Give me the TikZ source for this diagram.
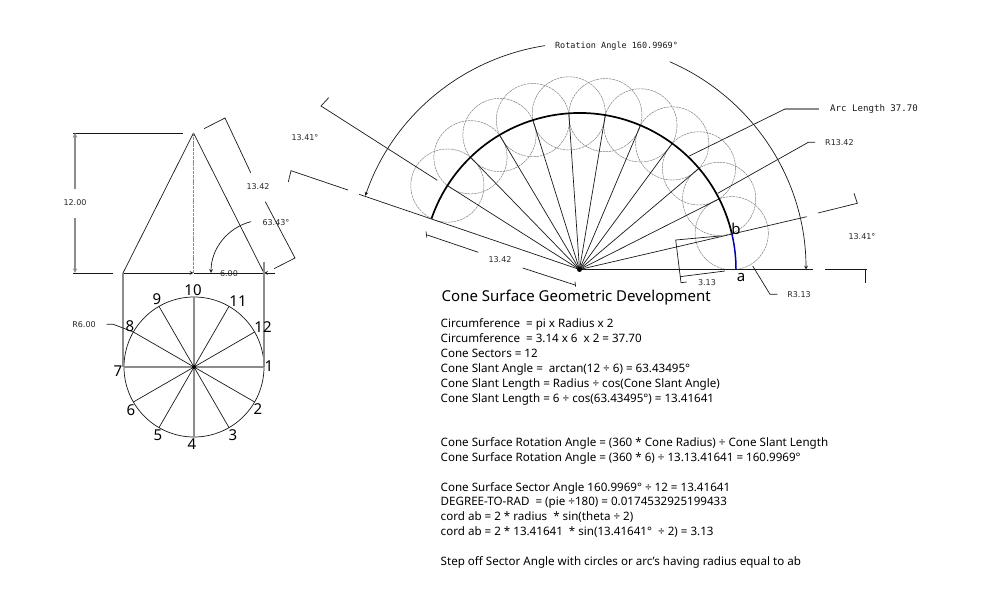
\documentclass[tikz,border=0pt]{standalone}
\usepackage{fontspec}
\setmainfont{Noto Sans}
\newfontfamily\dimfont{DejaVu Sans}
\newfontfamily\wordfont{DejaVu Sans Mono}
\usetikzlibrary{arrows}
\tikzset{
  thinln/.style={draw=black!90, line width=0.7pt},
  grayln/.style={draw=black!45, line width=1.1pt},
  stepcirc/.style={draw=black!50, line width=0.5pt, dash pattern=on 2.5pt off 0.7pt},
  dimlab/.style={inner sep=0pt, text=black!85, font=\dimfont\fontsize{8}{9}\selectfont},
  wordlab/.style={inner sep=0pt, text=black!90, font=\wordfont\fontsize{8.5}{9}\selectfont},
  numlab/.style={inner sep=0pt, font=\fontsize{15}{16}\selectfont},
  notes/.style={inner sep=0pt, align=left, font=\fontsize{11.6}{14.85}\selectfont}
}

\begin{document}
\begin{tikzpicture}[x=1pt, y=1pt, >=stealth]
  \useasboundingbox (0,0) rectangle (992,602);

  % cone
  \coordinate (apex) at (193.5,469);
  \coordinate (baseL) at (123,329);
  \coordinate (baseM) at (193.5,329);
  \coordinate (baseR) at (264,329);
  \draw[thinln] (baseL) to (apex);
  \draw[thinln] (apex) to (baseR);
  \draw[grayln, dash pattern=on 3pt off 0.8pt] (apex) to (baseM);
  \draw[thinln, ->] (baseL) to (baseM);
  \draw[thinln] (baseM) to (baseR);
  \draw[thinln, ->] (275,329) to (baseR);
  \node[dimlab] (rad) at (229,328) {6.00};

  % cone dimensions
  \draw[thinln] (73,469) to (182.7,469);
  \draw[thinln] (73,329) to (112.7,329);
  \node[dimlab] (height) at (75,399) {12.00};
  \draw[grayln, ->] (75,413) to (75,469);
  \draw[grayln, ->] (75,384) to (75,329);
  \node[dimlab] (slant) at (258,415) {13.42};
  \draw[thinln] (204,473.3) -- (225,484) -- (250.7,429.3);
  \draw[thinln] (265.3,400.3) -- (295,344) -- (274,333.3);
  \node[dimlab] (slantang) at (276,379) {63.43°};
  \draw[thinln, ->] (251.2,380.4) arc[start angle=104, end angle=180, radius=53];

  % base circle
  \coordinate (base) at (194,235);
  \draw[thinln] (base) circle (70);
  \draw[grayln] (264,340) to (264,235);
  \draw[grayln] (123,329) to (123,235);
  \draw[grayln] (124,235) to (264,235);
  \draw[grayln] (194,305) to (194,165);
  \foreach \a in {30,60,120,150,210,240,300,330}
    \draw[thinln] (base) to ([shift={(base)}]\a:70);
  \fill (base) circle (2);
  \node[dimlab] (rsix) at (84,277) {R6.00};
  \draw[thinln] (106.7,277.7) -- (113.3,277.7) -- ([shift={(base)}]150:70);

  \node[numlab] (n1) at (269,236) {1};
  \node[numlab] (n2) at (258,193) {2};
  \node[numlab] (n3) at (233,167) {3};
  \node[numlab] (n4) at (192,158) {4};
  \node[numlab] (n5) at (158,167) {5};
  \node[numlab] (n6) at (131,192) {6};
  \node[numlab] (n7) at (118,231) {7};
  \node[numlab] (n8) at (130,276) {8};
  \node[numlab] (n9) at (157,303) {9};
  \node[numlab] (n10) at (193,312) {10};
  \node[numlab] (n11) at (238,301) {11};
  \node[numlab] (n12) at (263,275) {12};

  % development
  \coordinate (fan) at (579.5,332.5);
  \foreach \k [evaluate=\k as \a using \k*13.41641] in {0,...,12}
    \coordinate (arc\k) at ([shift={(fan)}]\a:156.5);
  \foreach \k in {1,...,11}
    \draw[stepcirc] (arc\k) circle (36.6);
  \foreach \k in {2,...,11}
    \draw[thinln] (fan) to (arc\k);
  \draw[thinln] (fan) to (813,332.5);
  \draw[thinln] (fan) to (806.7,385.3);
  \draw[thinln] (fan) to (359,407.7);
  \draw[line width=1.7pt] (arc1) arc[start angle=13.41641, end angle=160.9969, radius=156.5];
  \draw[blue!70!black, line width=1.5pt] (arc0) arc[start angle=0, end angle=13.41641, radius=156.5];
  \fill (fan) circle (2.5);

  % rotation angle
  \node[wordlab] (rotang) at (616.5,556) {Rotation Angle 160.9969°};
  \draw[thinln, ->] ([shift={(fan)}]66.5:226.5) arc[start angle=66.5, end angle=0, radius=226.5];
  \draw[thinln, ->] ([shift={(fan)}]98.8:226.5) arc[start angle=98.8, end angle=161, radius=226.5];

  % sector dimensions
  \node[dimlab] (secL) at (305,464) {13.41°};
  \draw[thinln] (437.3,421.7) -- (321,496) -- (328.7,504.3);
  \draw[thinln] (348,412) -- (291,431.3) -- (288.3,420);
  \node[dimlab] (secR) at (862,365) {13.41°};
  \draw[thinln] (818,389) -- (857.3,398.7) -- (854,408.7);
  \draw[thinln] (825,332.5) -- (866.7,332.5);
  \draw[thinln] (865,332.5) -- (865,319);

  \node[dimlab] (fanlen) at (500,342) {13.42};
  \draw[thinln] (427.3,367) -- (478.3,349.7);
  \draw[thinln] (426,370.5) -- (426.8,364.5);
  \draw[thinln] (522.7,334) -- (575,317);
  \draw[thinln] (575,320.3) -- (575.6,315.3);

  % chord
  \node[numlab] (ptb) at (736,373) {b};
  \node[numlab] (pta) at (741,325) {a};
  \node[dimlab] (chord) at (707,319) {3.13};
  \draw[thinln] (720,366) -- (675.7,362) -- (681,319.3) -- (686.7,320);
  \draw[thinln] (680,325.3) -- (725,331);

  % leaders
  \node[wordlab, font=\wordfont\fontsize{9.1}{9}\selectfont, anchor=west] (arclen) at (830,493) {Arc Length 37.70};
  \draw[thinln] (689.3,446) to (785,493);
  \draw[grayln] (785,493) to (819.3,493);
  \node[dimlab, anchor=west] (rslant) at (825,459.5) {R13.42};
  \draw[thinln] (717.7,408.7) -- (808.3,459.7) -- (815,459.7);
  \node[dimlab] (rchord) at (799,307) {R3.13};
  \draw[thinln] (752.7,336) -- (770,307.7) -- (777.3,307.7);

  % working
  \node[anchor=west, inner sep=0pt, font=\fontsize{15}{18}\selectfont] (title) at (441.5,304) {Cone Surface Geometric Development};
  \node[notes, anchor=north west] (working) at (440.5,283.3) {
    Circumference \ = pi x Radius x 2\\
    Circumference \ = 3.14 x 6 \ x 2 = 37.70\\
    Cone Sectors = 12\\
    Cone Slant Angle = \ arctan(12 ÷ 6) = 63.43495°\\
    Cone Slant Length = Radius ÷ cos(Cone Slant Angle)\\
    Cone Slant Length = 6 ÷ cos(63.43495°) = 13.41641\\[29.7pt]
    Cone Surface Rotation Angle = (360 * Cone Radius) ÷ Cone Slant Length\\
    Cone Surface Rotation Angle = (360 * 6) ÷ 13.13.41641 = 160.9969°\\[14.85pt]
    Cone Surface Sector Angle 160.9969° ÷ 12 = 13.41641\\
    DEGREE-TO-RAD \ = (pie ÷180) = 0.0174532925199433\\
    cord ab = 2 * radius \ * sin(theta ÷ 2)\\
    cord ab = 2 * 13.41641 \ * sin(13.41641° \ ÷ 2) = 3.13\\[14.85pt]
    Step off Sector Angle with circles or arc's having radius equal to ab
  };
\end{tikzpicture}
\end{document}
